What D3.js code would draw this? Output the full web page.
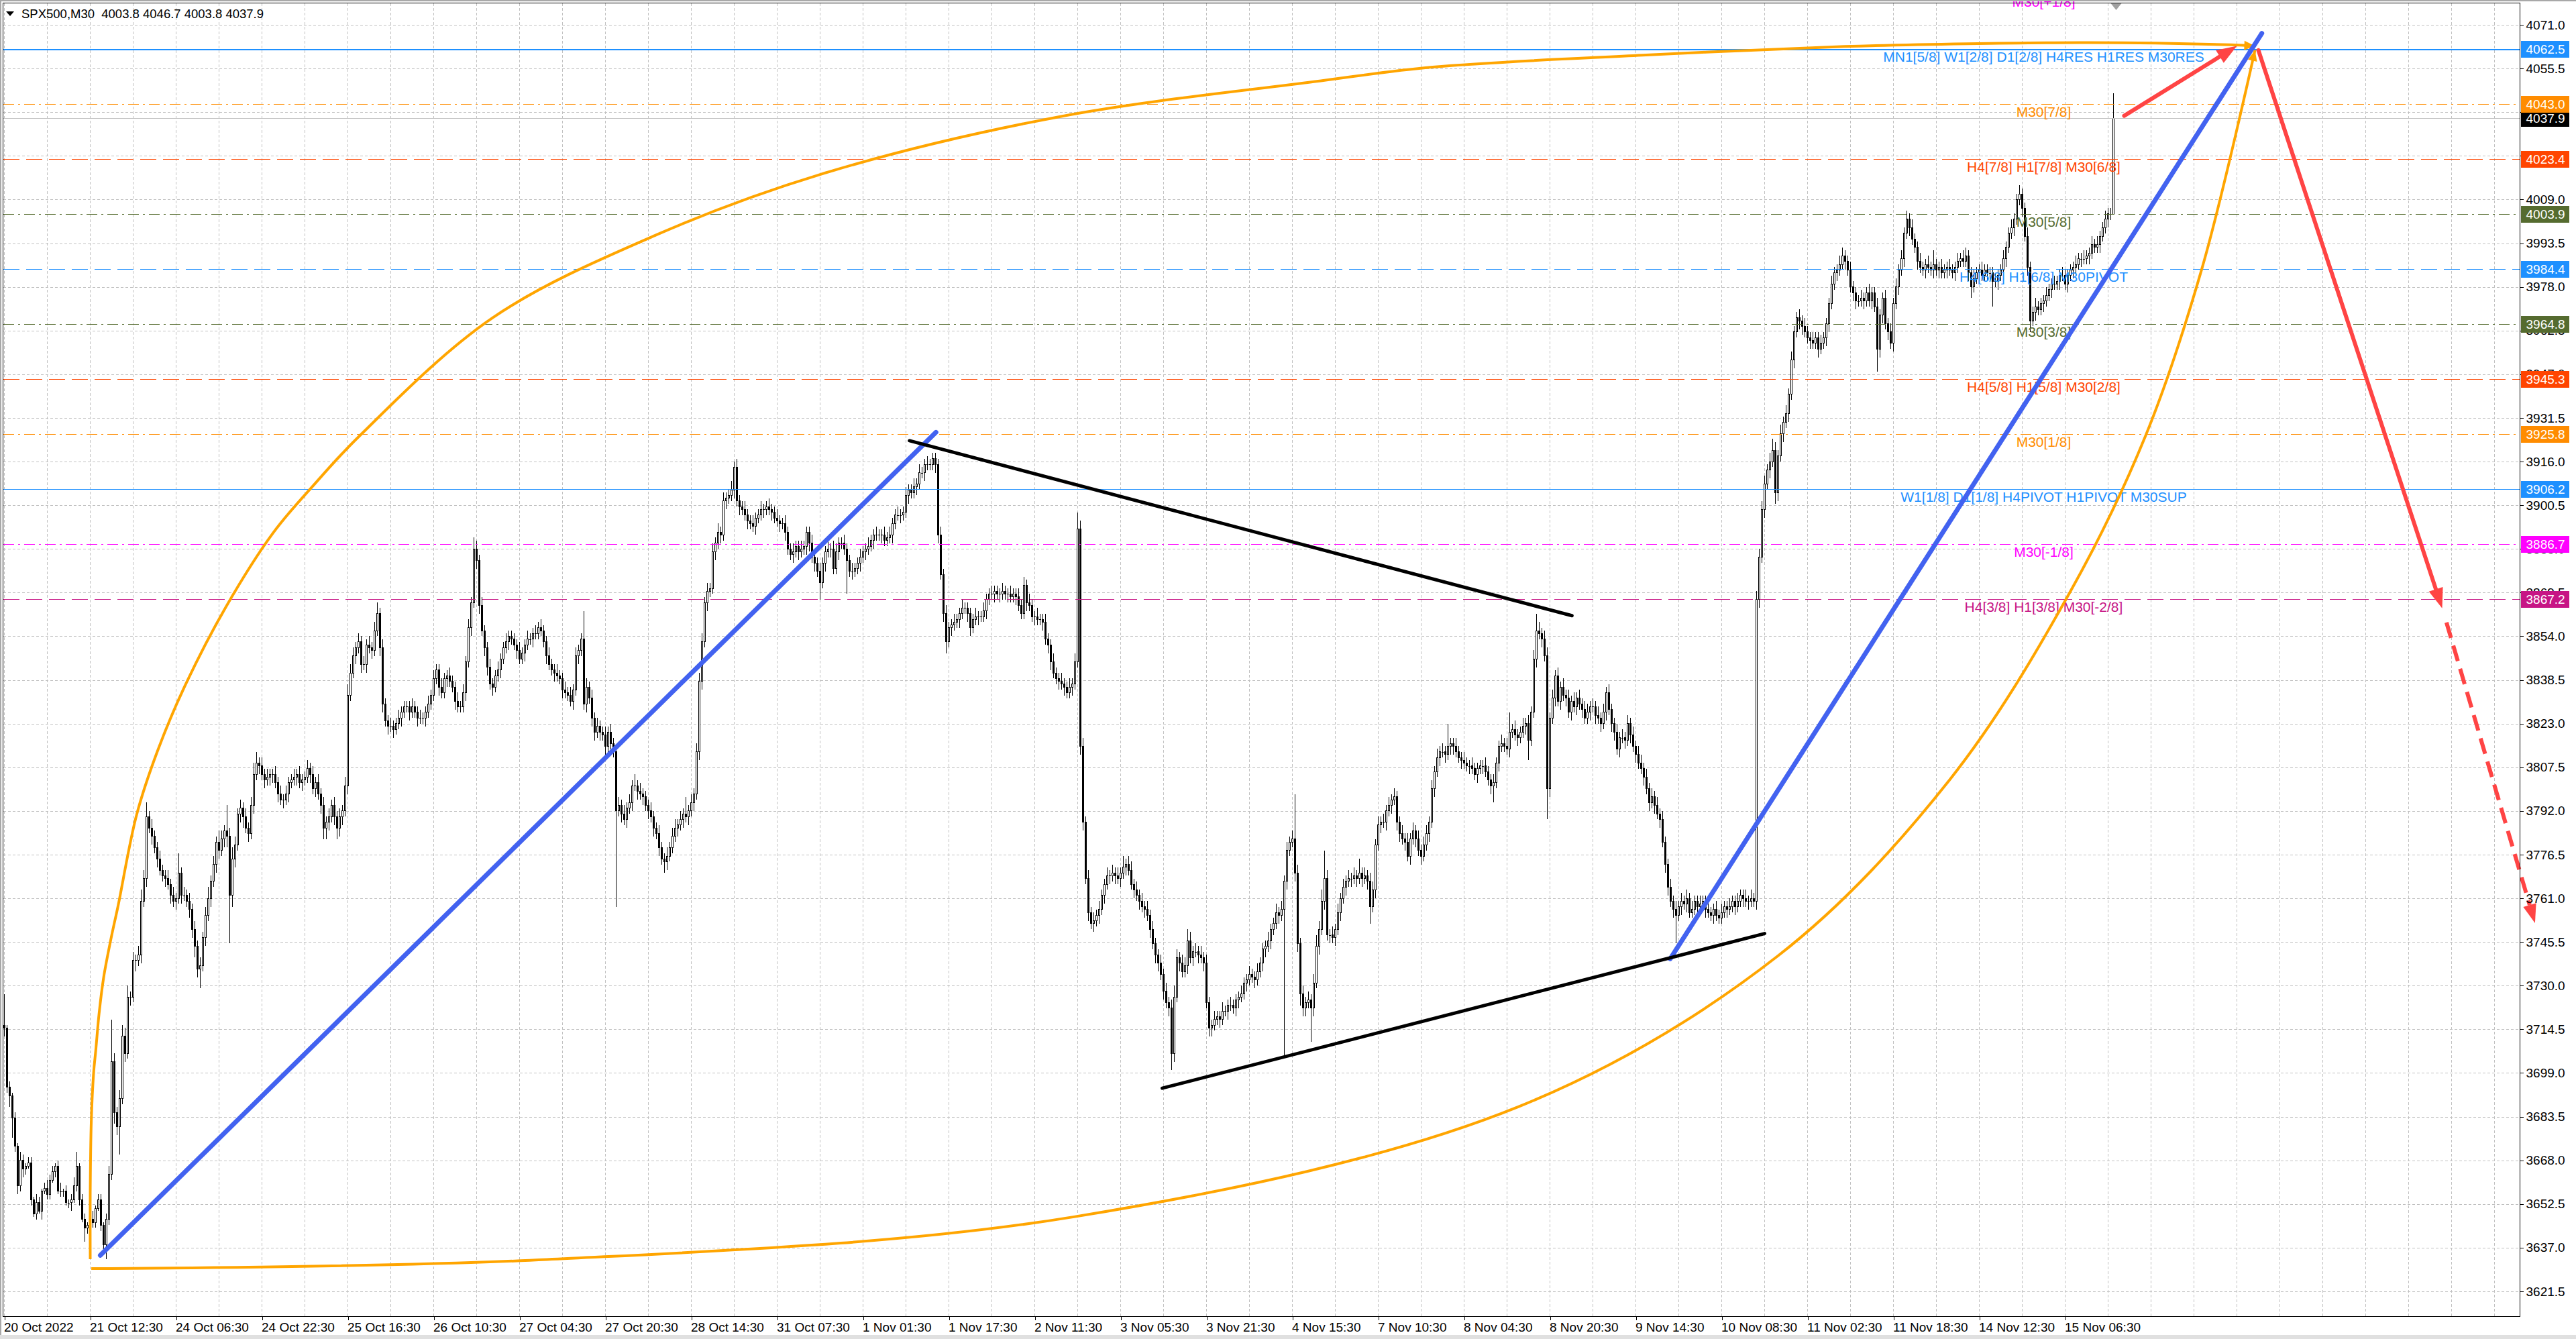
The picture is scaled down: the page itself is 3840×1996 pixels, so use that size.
<!DOCTYPE html>
<html><head><meta charset="utf-8">
<script src="https://cdn.jsdelivr.net/npm/d3@7"></script>
<style>
html,body{margin:0;padding:0;background:#fff;overflow:hidden}
svg{display:block}
text{font-family:"Liberation Sans",Arial,sans-serif}
</style></head><body>
<svg id="c" width="3840" height="1996"></svg>
<script>
// ---------------- DATA ----------------
const symbol = "SPX500,M30";
const headerOHLC = [4003.8, 4046.7, 4003.8, 4037.9];
const firstOpen = 3716;
const closes = [
3715,3694,3691,3683,3673,3659,3668,3665,3666,3667,
3654,3649,3653,3650,3657,3658,3656,3661,3664,3666,
3657,3657,3657,3653,3653,3654,3659,3666,3654,3647,
3644,3645,3647,3646,3651,3654,3645,3638,3647,3663,
3703,3685,3680,3690,3712,3706,3726,3726,3739,3739,
3741,3760,3768,3790,3786,3783,3779,3775,3771,3769,
3768,3766,3762,3760,3761,3770,3762,3762,3760,3757,
3750,3744,3736,3737,3747,3755,3761,3767,3773,3781,
3778,3782,3785,3783,3762,3775,3780,3791,3793,3790,
3786,3784,3794,3805,3809,3808,3805,3803,3804,3805,
3805,3802,3798,3796,3796,3798,3802,3803,3804,3805,
3802,3803,3804,3807,3805,3800,3802,3798,3794,3786,
3788,3790,3794,3790,3786,3790,3792,3801,3833,3841,
3847,3850,3852,3844,3844,3851,3850,3849,3856,3862,
3850,3830,3824,3822,3822,3821,3823,3825,3827,3829,
3829,3827,3829,3827,3825,3825,3825,3827,3830,3833,
3839,3842,3836,3834,3839,3840,3838,3836,3831,3829,
3829,3834,3845,3857,3866,3885,3881,3865,3856,3850,
3843,3837,3836,3840,3842,3846,3850,3852,3854,3853,
3851,3849,3846,3848,3851,3853,3853,3855,3855,3857,
3856,3852,3847,3844,3842,3841,3840,3839,3835,3834,
3833,3831,3835,3847,3849,3853,3830,3836,3832,3825,
3820,3822,3820,3819,3815,3820,3816,3813,3792,3794,
3791,3789,3793,3795,3801,3801,3799,3798,3797,3794,
3792,3790,3786,3784,3779,3775,3774,3776,3779,3783,
3786,3787,3789,3791,3790,3792,3795,3798,3813,3838,
3852,3866,3870,3871,3884,3887,3891,3890,3902,3903,
3904,3906,3914,3902,3900,3899,3897,3895,3894,3893,
3896,3897,3899,3899,3900,3899,3898,3896,3895,3894,
3894,3891,3885,3883,3884,3886,3884,3885,3886,3891,
3887,3882,3880,3877,3873,3880,3884,3885,3885,3878,
3884,3887,3887,3885,3881,3877,3877,3878,3880,3882,
3884,3885,3886,3888,3890,3890,3890,3890,3888,3889,
3890,3894,3897,3897,3897,3898,3904,3906,3905,3907,
3908,3912,3912,3915,3915,3915,3917,3915,3890,3876,
3862,3852,3857,3858,3859,3860,3862,3864,3864,3862,
3857,3860,3861,3861,3861,3863,3867,3869,3869,3870,
3869,3869,3870,3869,3869,3868,3869,3868,3865,3862,
3872,3866,3865,3861,3861,3860,3860,3859,3853,3851,
3845,3841,3839,3838,3837,3836,3834,3836,3837,3845,
3892,3815,3788,3768,3756,3752,3753,3755,3757,3762,
3766,3769,3769,3770,3769,3768,3770,3772,3773,3771,
3766,3764,3762,3760,3758,3757,3755,3750,3745,3741,
3738,3734,3728,3724,3722,3706,3726,3740,3738,3735,
3737,3746,3740,3742,3742,3741,3740,3738,3724,3715,
3716,3718,3719,3718,3721,3721,3723,3723,3722,3725,
3726,3727,3731,3732,3734,3733,3732,3735,3738,3743,
3744,3746,3750,3752,3756,3755,3757,3767,3778,3781,
3782,3770,3745,3727,3722,3724,3725,3722,3731,3744,
3750,3760,3768,3748,3748,3747,3750,3756,3761,3765,
3767,3768,3768,3769,3768,3770,3768,3769,3767,3758,
3764,3780,3787,3788,3788,3792,3794,3796,3797,3788,
3784,3782,3781,3776,3782,3785,3782,3778,3776,3780,
3784,3788,3800,3806,3811,3813,3813,3812,3815,3816,
3815,3813,3811,3810,3809,3808,3808,3807,3805,3807,
3808,3808,3806,3803,3801,3802,3809,3815,3816,3815,
3814,3820,3821,3819,3818,3820,3822,3823,3817,3827,
3846,3856,3855,3853,3847,3800,3825,3832,3840,3831,
3836,3833,3832,3827,3831,3829,3832,3830,3828,3825,
3827,3829,3829,3826,3825,3823,3827,3834,3828,3823,
3820,3814,3818,3818,3817,3823,3819,3815,3812,3809,
3807,3804,3800,3795,3797,3794,3791,3789,3781,3773,
3765,3760,3757,3755,3758,3760,3759,3761,3756,3757,
3760,3758,3759,3760,3757,3756,3755,3757,3755,3754,
3756,3758,3757,3758,3760,3758,3760,3762,3761,3760,
3760,3761,3760,3867,3882,3899,3908,3913,3916,3920,
3905,3918,3926,3930,3933,3940,3952,3962,3967,3966,
3964,3962,3960,3959,3958,3960,3956,3958,3960,3965,
3972,3979,3983,3984,3986,3989,3987,3984,3978,3976,
3973,3973,3974,3973,3976,3973,3976,3971,3956,3968,
3974,3965,3962,3958,3972,3978,3984,3988,3997,4002,
3999,3995,3992,3987,3985,3984,3986,3985,3984,3986,
3984,3985,3983,3984,3985,3984,3983,3985,3987,3988,
3987,3989,3983,3978,3981,3983,3984,3982,3984,3983,
3983,3980,3980,3982,3984,3988,3992,3997,3999,4002,
4009,4011,4006,3996,3985,3966,3969,3971,3970,3972,
3973,3975,3977,3979,3979,3980,3982,3982,3979,3982,
3984,3985,3986,3988,3988,3988,3989,3990,3993,3992,
3993,3996,3999,4002,4004,4003.8,4037.9];
const wickUp = [
11,1,2,1,2,1,3,2,1,2, 2,1,3,2,1,2,3,2,2,1, 2,3,1,2,1,2,3,5,1,2, 2,1,2,3,1,2,2,1,2,3,
15,3,2,3,4,3,4,2,3,2, 3,4,3,5,2,3,2,2,3,2, 2,3,2,3,2,7,2,3,2,3, 2,3,2,3,2,3,4,2,3,2,
4,3,2,9,3,4,3,2,3,2, 3,2,3,4,4,2,3,2,3,2, 2,3,2,3,2,3,2,2,3,2, 3,2,2,3,2,3,2,3,2,3,
2,3,2,3,2,3,2,3,4,3, 3,2,3,2,3,2,3,2,3,4, 2,3,2,2,3,2,2,3,2,2, 2,2,3,2,2,3,2,2,3,2,
3,2,2,3,2,2,3,2,2,3, 2,3,2,3,2,4,3,2,3,2, 2,3,2,2,3,2,2,3,2,2, 2,2,3,2,2,3,2,2,3,2,
3,2,2,3,2,2,3,2,2,3, 2,3,2,3,2,2,10,3,2,3, 2,3,2,2,3,2,3,2,2,3, 2,3,2,3,2,4,2,3,2,2,
2,3,2,2,3,2,2,3,2,3, 3,2,3,2,6,2,3,2,3,3, 3,2,3,2,3,2,3,2,3,2, 2,3,2,3,2,2,3,2,2,3,
2,2,3,2,2,3,2,2,3,2, 2,3,2,2,3,2,2,3,2,2, 2,3,2,2,3,2,2,3,2,3, 3,2,2,3,2,2,3,2,2,3,
2,2,3,2,2,3,2,2,3,2, 3,2,2,3,2,2,3,2,2,3, 2,3,2,2,3,2,2,2,2,3, 2,3,2,2,3,2,2,3,2,2,
2,2,3,2,2,3,2,2,3,2, 2,2,3,2,2,3,2,2,3,2, 3,2,3,2,2,3,2,2,3,2, 2,3,2,2,3,2,2,3,2,3,
6,3,3,2,3,2,3,2,3,2, 2,3,2,3,2,3,2,4,2,3, 3,2,3,2,3,2,3,2,3,2, 2,3,2,3,2,3,4,3,2,3,
3,4,3,2,3,2,3,2,3,2, 2,3,2,2,3,2,2,3,2,2, 2,3,2,2,3,2,2,3,2,2, 2,3,2,2,3,2,3,2,3,2,
3,16,3,2,3,2,3,2,3,4, 3,4,10,3,2,3,2,3,2,3, 2,3,2,3,2,5,2,3,2,3, 3,2,3,2,3,2,3,2,3,2,
2,3,2,3,2,3,2,3,2,3, 3,2,3,2,3,2,3,2,8,2, 2,3,2,2,3,2,2,3,2,2, 2,2,3,2,2,3,2,2,3,2,
3,7,2,3,2,2,3,2,3,2, 3,6,3,2,3,3,2,3,2,3, 2,3,2,3,2,3,2,3,2,3, 3,2,3,2,3,2,3,2,3,2,
2,3,2,3,2,3,2,3,2,3, 3,2,3,2,3,2,3,2,3,2, 2,3,2,3,2,3,2,3,2,3, 2,2,3,2,2,3,2,2,3,2,
3,2,2,3,2,2,3,2,2,3, 2,3,2,3,3,3,3,2,3,4, 3,2,3,2,3,2,3,2,2,3, 2,3,2,2,3,2,2,3,2,2,
2,3,2,2,3,3,2,2,3,2, 2,2,3,2,2,3,2,2,3,2, 2,3,2,3,2,3,2,3,2,3, 2,3,2,2,3,2,2,3,2,5,
2,2,3,2,2,3,2,2,3,2, 3,3,2,2,3,2,2,3,2,2, 2,2,3,2,2,3,2,2,3,2, 2,3,2,2,3,2,2,3,2,2,
2,3,2,2,3,2,2,3,2,2, 2,2,3,2,2,3,2,2,3,2, 3,2,2,3,2,2,8.8];
const wickDn = [
3,2,4,7,2,3,2,3,2,1, 2,1,2,1,3,1,2,2,1,2, 1,2,2,1,2,3,1,2,2,1, 5,2,1,2,2,1,2,3,5,2,
2,4,3,10,2,3,2,3,2,4, 2,3,2,3,2,3,2,3,2,2, 3,2,3,2,3,2,3,2,2,3, 3,4,3,7,2,3,2,3,2,3,
3,2,3,4,17,4,3,2,3,4, 2,3,2,3,2,3,2,3,2,3, 3,2,3,2,3,2,3,2,2,3, 2,3,2,2,3,2,3,2,3,4,
4,3,2,3,4,3,3,2,3,2, 2,3,2,3,2,3,2,3,2,2, 3,3,2,3,2,3,2,2,3,2, 2,3,2,2,3,2,2,3,2,2,
2,2,3,2,2,3,2,2,3,2, 2,2,3,2,3,2,3,3,2,3, 3,2,3,2,2,3,2,2,3,2, 2,3,2,2,3,2,2,3,2,2,
2,2,3,2,2,3,2,2,3,2, 2,2,3,2,3,2,2,3,2,3, 3,2,3,2,3,2,3,2,34,2, 3,2,3,2,3,2,3,2,3,2,
3,2,3,2,3,2,4,3,2,2, 2,3,2,3,2,3,2,3,2,3, 3,2,3,2,2,3,2,3,2,3, 2,2,3,2,3,2,2,3,2,2,
3,2,2,3,2,2,3,2,2,3, 2,3,2,2,3,2,3,2,2,3, 3,2,3,2,6,2,3,2,3,2, 2,3,2,2,12,2,3,2,2,3,
2,3,2,2,3,2,2,3,2,2, 2,3,2,2,3,2,2,3,2,2, 3,2,2,3,2,2,2,3,3,2, 3,4,2,3,2,2,3,2,2,3,
3,2,2,3,2,2,3,2,2,3, 2,3,2,2,3,2,2,3,2,2, 2,3,2,2,3,2,2,3,2,3, 3,2,2,3,2,3,2,2,3,2,
2,3,3,2,3,2,3,2,3,2, 3,2,3,2,3,2,3,2,3,2, 2,3,2,3,2,3,2,3,2,3, 3,2,3,2,3,6,3,2,3,2,
2,3,2,3,2,3,2,3,2,3, 3,2,2,3,2,2,3,2,2,3, 3,2,2,3,2,2,3,2,2,3, 3,2,3,2,2,3,2,52,3,2,
2,3,3,4,3,3,2,12,3,2, 3,2,3,2,3,2,3,2,3,2, 3,2,3,2,3,2,3,2,3,6, 2,3,2,3,2,3,2,3,2,3,
3,2,3,2,3,2,3,2,3,2, 2,3,2,3,2,3,2,3,2,3, 3,2,2,3,2,2,3,2,2,3, 2,3,2,2,3,6,2,3,2,2,
2,3,2,2,3,2,2,3,7,2, 2,3,2,3,2,11,3,2,3,2, 3,2,3,2,3,2,3,2,3,2, 2,3,2,3,2,3,2,3,2,3,
3,2,3,2,3,2,3,2,3,2, 2,3,2,3,2,3,2,3,2,3, 3,2,3,10,2,3,2,3,2,2, 2,3,2,2,3,2,2,3,2,2,
2,2,3,2,2,3,2,2,3,2, 3,2,2,3,3,2,3,2,3,2, 4,3,2,3,2,3,2,3,2,3, 3,2,2,3,2,2,3,2,2,3,
3,2,2,3,2,2,3,2,2,3, 3,2,2,3,2,2,3,2,8,3, 3,2,3,2,3,2,3,2,3,2, 3,2,2,3,2,2,3,2,2,3,
2,3,2,2,3,2,2,3,2,2, 2,2,3,4,2,2,3,2,2,3, 3,9,2,3,2,2,3,2,2,3, 2,2,3,2,3,4,2,3,2,2,
3,2,2,3,2,2,3,2,2,3, 2,3,2,2,3,2,2,3,2,2, 2,3,2,2,3,2,0];

const timeLabels = ["20 Oct 2022","21 Oct 12:30","24 Oct 06:30","24 Oct 22:30","25 Oct 16:30","26 Oct 10:30",
"27 Oct 04:30","27 Oct 20:30","28 Oct 14:30","31 Oct 07:30","1 Nov 01:30","1 Nov 17:30","2 Nov 11:30",
"3 Nov 05:30","3 Nov 21:30","4 Nov 15:30","7 Nov 10:30","8 Nov 04:30","8 Nov 20:30","9 Nov 14:30",
"10 Nov 08:30","11 Nov 02:30","11 Nov 18:30","14 Nov 12:30","15 Nov 06:30"];
const barsPerLabel = 32;
const priceTicks = [4071.0,4055.5,4040.0,4024.5,4009.0,3993.5,3978.0,3962.5,3947.0,3931.5,3916.0,3900.5,
3885.0,3869.5,3854.0,3838.5,3823.0,3807.5,3792.0,3776.5,3761.0,3745.5,3730.0,3714.5,3699.0,3683.5,
3668.0,3652.5,3637.0,3621.5];

const levelPrices = [4062.5,4043.0,4023.4,4003.9,3984.4,3964.8,3945.3,3925.8,3906.2,3886.7,3867.2];
const levelNames = ["MN1[5/8] W1[2/8] D1[2/8] H4RES H1RES M30RES","M30[7/8]","H4[7/8] H1[7/8] M30[6/8]",
"M30[5/8]","H4[6/8] H1[6/8] M30PIVOT","M30[3/8]","H4[5/8] H1[5/8] M30[2/8]","M30[1/8]",
"W1[1/8] D1[1/8] H4PIVOT H1PIVOT M30SUP","M30[-1/8]","H4[3/8] H1[3/8] M30[-2/8]"];
const levelColors = ["#1e90ff","#ff8c00","#ff4500","#556b2f","#1e90ff","#556b2f","#ff4500","#ff8c00","#1e90ff","#ff00ff","#c71585"];
const levelStyles = ["solid","dashdot","dash","dashdot","dash","dashdot","dash","dashdot","solid","dashdot","dash"];
const offLevelPrice = 4082.0, offLevelName = "M30[+1/8]", offLevelColor = "#ff00ff";
const bidPrice = 4037.9;
const labelBar = 760;

// drawn objects: [bar index, price]
const blueLine1 = [[35.75,3634.3],[347.2,3926.4]];
const blueLine2 = [[620.8,3739.5],[841.3,4068.0]];
const blackUpper = [[337.3,3923.4],[584.2,3861.3]];
const blackLower = [[431.5,3693.6],[656.0,3748.5]];
const arcLeft = [[32,3632.9],[32,3656.3],[32.4,3682.0],[33.25,3698.9],[34.1,3707.4],[35.3,3720.1],[37,3732.9],
[39.9,3747.4],[42.4,3758.4],[49.25,3790.5],[57,3813.1],[67,3835.8],[82.5,3864.3],[100.25,3890.8],[115.5,3907.9],
[132.25,3925.0],[181.9,3967.0],[243.1,3996.5],[304.4,4018.0],[393.25,4038.4],[488,4050.8],[532.25,4056.0],
[610.5,4060.2],[685.75,4063.3],[731.25,4064.3],[776.75,4064.7],[829.75,4063.9],[838.75,4063.5]];
const arcRight = [[32.4,3629.6],[202.25,3632.8],[398.25,3647.9],[564.2,3687.0],[661,3740.6],[724.9,3803.0],
[770,3870.0],[797.9,3925.0],[819,3984.6],[838.75,4062.0]];
const redShort = [[790,4038.7],[832,4063.5]];
const redLong = [[840,4062.0],[908.5,3863.9]];
const redDashed = [[910.1,3858.9],[943.1,3752.2]];

// ---------------- LAYOUT ----------------
const FONT = '"Liberation Sans",Arial,sans-serif';
const frame = {l:4.5, t:4.5, r:3756.5, b:1962.5};
const svg = d3.select('#c');
const x = d3.scaleLinear().domain([0,1]).range([6.5,10.5]);
const y = d3.scaleLinear().domain([3621.5,4071.0]).range([1925,37]);
const cy = v => Math.round(y(v)) + 0.5;

svg.append('rect').attr('width',3840).attr('height',1996).attr('fill','#fff');
svg.append('clipPath').attr('id','plot').append('rect')
  .attr('x',frame.l).attr('y',frame.t).attr('width',frame.r-frame.l).attr('height',frame.b-frame.t);

// grid
const grid = svg.append('g').attr('stroke','#c0c0c0').attr('stroke-width',1).attr('stroke-dasharray','4,3')
  .attr('shape-rendering','crispEdges');
grid.selectAll('line.h').data(priceTicks).enter().append('line')
  .attr('x1',frame.l).attr('x2',frame.r).attr('y1',d=>cy(d)).attr('y2',d=>cy(d));
const vGrid = d3.range(0, 59).map(k => k*16).filter(b => x(b) < frame.r - 2);
grid.selectAll('line.v').data(vGrid).enter().append('line')
  .attr('x1',d=>x(d)).attr('x2',d=>x(d)).attr('y1',frame.t).attr('y2',frame.b);

// candles
const bars = closes.map((c,i) => {
  const o = i === 0 ? firstOpen : closes[i-1];
  return {i, o, c, h: Math.max(o,c)+wickUp[i], l: Math.min(o,c)-wickDn[i]};
});
const cg = svg.append('g').attr('clip-path','url(#plot)').attr('shape-rendering','crispEdges');
cg.selectAll('line.w').data(bars).enter().append('line')
  .attr('x1',d=>x(d.i)).attr('x2',d=>x(d.i)).attr('y1',d=>y(d.h)).attr('y2',d=>y(d.l))
  .attr('stroke','#000').attr('stroke-width',1);
cg.selectAll('rect.b').data(bars.filter(d=>Math.abs(d.c-d.o)>=0.2)).enter().append('rect')
  .attr('x',d=>x(d.i)-1).attr('width',2)
  .attr('y',d=>y(Math.max(d.o,d.c))).attr('height',d=>Math.max(1, y(Math.min(d.o,d.c))-y(Math.max(d.o,d.c))))
  .attr('fill',d=>d.c>d.o?'#fff':'#000').attr('stroke','#000').attr('stroke-width',1);
cg.selectAll('line.d').data(bars.filter(d=>Math.abs(d.c-d.o)<0.2)).enter().append('line')
  .attr('x1',d=>x(d.i)-1.5).attr('x2',d=>x(d.i)+1.5).attr('y1',d=>cy(d.c)).attr('y2',d=>cy(d.c))
  .attr('stroke','#000');

// level lines
const dashFor = s => s==='dash' ? '24,10' : s==='dashdot' ? '16,6,3,6' : null;
const lv = svg.append('g').attr('shape-rendering','crispEdges');
svg.append('line').attr('x1',frame.l).attr('x2',frame.r).attr('y1',cy(bidPrice)).attr('y2',cy(bidPrice))
  .attr('stroke','#c0c0c0').attr('stroke-width',1).attr('shape-rendering','crispEdges');
levelPrices.forEach((p,k) => {
  lv.append('line').attr('x1',frame.l).attr('x2',frame.r).attr('y1',cy(p)).attr('y2',cy(p))
    .attr('stroke',levelColors[k]).attr('stroke-width', k===0 ? 2 : 1)
    .attr('stroke-dasharray',dashFor(levelStyles[k]));
});
const lt = svg.append('g').attr('font-family',FONT).attr('font-size',21).attr('text-anchor','middle');
levelPrices.forEach((p,k) => {
  lt.append('text').attr('x',x(labelBar)).attr('y',y(p)+19).attr('fill',levelColors[k]).text(levelNames[k]);
});
lt.append('text').attr('x',x(labelBar)).attr('y',y(offLevelPrice)+19).attr('fill',offLevelColor).text(offLevelName);

// arcs (orange)
const line = d3.line().x(d=>x(d[0])).y(d=>y(d[1]));
const curve = d3.line().x(d=>x(d[0])).y(d=>y(d[1])).curve(d3.curveCatmullRom.alpha(0.5));
function head(p1, p2, L, Wd) {
  const x1=x(p1[0]), y1=y(p1[1]), x2=x(p2[0]), y2=y(p2[1]);
  const dx=x2-x1, dy=y2-y1, len=Math.hypot(dx,dy), ux=dx/len, uy=dy/len;
  const bx=x2-ux*L, by=y2-uy*L;
  return {path:`M${x2},${y2}L${bx-uy*Wd},${by+ux*Wd}L${bx+uy*Wd},${by-ux*Wd}Z`, bx, by};
}
const og = svg.append('g');
[arcLeft, arcRight].forEach(arc => {
  og.append('path').attr('d',curve(arc)).attr('fill','none').attr('stroke','#ffa500').attr('stroke-width',4);
  const h = head(arc[arc.length-2], arc[arc.length-1], 16, 7);
  og.append('path').attr('d',h.path).attr('fill','#ffa500');
});

// trend lines
const tg = svg.append('g').attr('fill','none').attr('stroke-linecap','round');
[blueLine1, blueLine2].forEach(l => tg.append('path').attr('d',line(l)).attr('stroke','#4262f0').attr('stroke-width',7));
[blackUpper, blackLower].forEach(l => tg.append('path').attr('d',line(l)).attr('stroke','#000').attr('stroke-width',5));

// red arrows
const RED = '#ff4444';
[redShort, redLong].forEach(l => {
  const h = head(l[0], l[1], 30, 11);
  svg.append('line').attr('x1',x(l[0][0])).attr('y1',y(l[0][1])).attr('x2',h.bx).attr('y2',h.by)
    .attr('stroke',RED).attr('stroke-width',6).attr('stroke-linecap','round');
  svg.append('path').attr('d',h.path).attr('fill',RED);
});
{
  const l = redDashed, h = head(l[0], l[1], 28, 10);
  svg.append('line').attr('x1',x(l[0][0])).attr('y1',y(l[0][1])).attr('x2',h.bx).attr('y2',h.by)
    .attr('stroke',RED).attr('stroke-width',6).attr('stroke-dasharray','24,12');
  svg.append('path').attr('d',h.path).attr('fill',RED);
}

// frame
svg.append('rect').attr('x',frame.l).attr('y',frame.t).attr('width',frame.r-frame.l).attr('height',frame.b-frame.t)
  .attr('fill','none').attr('stroke','#000').attr('stroke-width',1).attr('shape-rendering','crispEdges');

// y axis
const yAxis = svg.append('g').attr('transform',`translate(${frame.r},0)`)
  .call(d3.axisRight(y).tickValues(priceTicks).tickFormat(d3.format('.1f')).tickSize(5).tickPadding(4));
yAxis.select('.domain').remove();
yAxis.selectAll('text').attr('font-family',FONT).attr('font-size',19).attr('fill','#000');
yAxis.selectAll('line').attr('shape-rendering','crispEdges');

// x axis
const labelBars = timeLabels.map((d,i)=>i*barsPerLabel);
const xAxis = svg.append('g').attr('transform',`translate(0,${frame.b})`)
  .call(d3.axisBottom(x).tickValues(labelBars).tickFormat((d,i)=>timeLabels[i]).tickSize(5).tickPadding(4));
xAxis.select('.domain').remove();
xAxis.selectAll('text').attr('font-family',FONT).attr('font-size',19).attr('fill','#000')
  .attr('text-anchor','start').attr('dx',-1);
xAxis.selectAll('line').attr('shape-rendering','crispEdges');

// price tags
function tag(p, color) {
  const yy = Math.round(y(p));
  svg.append('rect').attr('x',frame.r+1.5).attr('y',yy-12).attr('width',72).attr('height',25).attr('fill',color);
  svg.append('text').attr('x',frame.r+9).attr('y',yy+7).attr('font-family',FONT).attr('font-size',19)
    .attr('fill','#fff').text(p.toFixed(1));
}
tag(bidPrice, '#000');
levelPrices.forEach((p,k)=>tag(p, levelColors[k]));

// header
svg.append('path').attr('d','M9,17L21,17L15,24Z').attr('fill','#000');
svg.append('text').attr('x',32).attr('y',27).attr('font-family',FONT).attr('font-size',18.5).attr('fill','#000')
  .style('white-space','pre').text(symbol + '  ' + headerOHLC.map(v=>v.toFixed(1)).join(' '));

// chart-shift marker
const sx = x(closes.length);
svg.append('path').attr('d',`M${sx-8},5L${sx+8},5L${sx},15Z`).attr('fill','#a0a0a0');

// window borders
svg.append('rect').attr('x',0).attr('y',0).attr('width',3840).attr('height',2).attr('fill','#a8a8a8');
svg.append('rect').attr('x',0).attr('y',0).attr('width',2).attr('height',1996).attr('fill','#a8a8a8');
svg.append('rect').attr('x',0).attr('y',1990).attr('width',3840).attr('height',6).attr('fill','#e0e0e0');
</script>
</body></html>
